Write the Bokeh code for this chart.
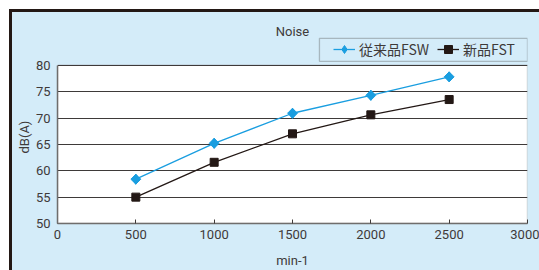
import math
from bokeh.plotting import figure
from bokeh.models import (Range1d, Legend, LegendItem, Label, BoxAnnotation, FixedTicker,
                          ColumnDataSource, Title)
from bokeh.embed import file_html
from bokeh.resources import INLINE

rpm = [500, 1000, 1500, 2000, 2500]
fsw = [58.4, 65.2, 70.9, 74.3, 77.8]
fst = [55.0, 61.6, 67.0, 70.6, 73.5]
x_ticks = [0, 500, 1000, 1500, 2000, 2500, 3000]
y_ticks = [50, 55, 60, 65, 70, 75, 80]
title_text = "Noise"
x_label = "min-1"
y_label = "dB(A)"
name_fsw = "従来品FSW"
name_fst = "新品FST"

BG = "#d4ecf9"
INK = "#3e3a39"
EDGE = "#6f6d6c"
BLUE = "#1a9ee0"
BLACK = "#231815"
FONT = "Roboto"

p = figure(width=539, height=270, output_backend="svg", toolbar_location=None,
           x_range=Range1d(0, 3000), y_range=Range1d(50, 90),
           min_border_left=57, min_border_right=12, min_border_top=12, min_border_bottom=46,
           styles={"background-color": BG,
                   "box-shadow": f"inset 9px 9px 0 0 #ffffff, inset 12px 12px 0 0 {BLACK}"})
p.border_fill_color = None
p.background_fill_color = BG
p.outline_line_color = None

plot_box = BoxAnnotation(left=0, right=3000, bottom=50, top=80, fill_color="white", fill_alpha=1,
                         line_color=EDGE, line_width=1.5, level="underlay")
p.center = [plot_box] + list(p.center)

p.xgrid.visible = False
p.ygrid.grid_line_color = INK
p.ygrid.grid_line_width = 1
p.ygrid.ticker = FixedTicker(ticks=y_ticks)

p.xaxis.ticker = FixedTicker(ticks=x_ticks)
p.yaxis.ticker = FixedTicker(ticks=y_ticks)
for ax in (p.xaxis, p.yaxis):
    ax.axis_line_color = EDGE
    ax.axis_line_width = 1.5
    ax.major_label_text_font = FONT
    ax.major_label_text_font_size = "13px"
    ax.major_label_text_color = INK
    ax.axis_label_text_font = FONT
    ax.axis_label_text_font_size = "13px"
    ax.axis_label_text_font_style = "normal"
    ax.axis_label_text_color = INK
    ax.minor_tick_line_color = None
p.yaxis.bounds = (50, 80)
p.xaxis.major_tick_in = 4
p.xaxis.major_tick_out = 0
p.xaxis.major_tick_line_color = INK
p.yaxis.major_tick_in = 0
p.yaxis.major_tick_out = 0
p.xaxis.major_label_standoff = 6
p.yaxis.major_label_standoff = 7
p.xaxis.axis_label = x_label
p.xaxis.axis_label_standoff = 11

ytitle = Title(text=y_label, align="left", offset=70, text_font=FONT, text_font_size="13px",
               text_font_style="normal", text_color=INK, standoff=2)
p.add_layout(ytitle, "left")

src = ColumnDataSource(dict(x=rpm, a=fsw, b=fst))
l1 = p.line("x", "a", source=src, line_color=BLUE, line_width=1.3)
# diamond (drawn under the rotated square, used as the legend key)
m1_key = p.scatter("x", "a", source=src, marker="diamond", size=10, fill_color=BLUE, line_color=BLUE)
m1 = p.scatter("x", "a", source=src, marker="square", angle=math.pi / 4, size=7,
               fill_color=BLUE, line_color=BLUE)
l2 = p.line("x", "b", source=src, line_color=BLACK, line_width=1.3)
m2 = p.scatter("x", "b", source=src, marker="square", size=8, fill_color=BLACK, line_color=BLACK)

p.add_layout(BoxAnnotation(left=1672, right=3000, bottom=80.75, top=85.1,
                           fill_color=BG, fill_alpha=1, line_color=INK, line_width=1.3))

legend = Legend(items=[LegendItem(label=name_fsw, renderers=[l1, m1_key]),
                       LegendItem(label=name_fst, renderers=[l2, m2])],
                orientation="horizontal", location=(276, 164),
                padding=0, margin=0, spacing=8, label_standoff=4,
                glyph_width=22, glyph_height=20, label_height=20,
                border_line_color=None, background_fill_alpha=0,
                label_text_font="Noto Sans CJK JP", label_text_font_size="14px",
                label_text_color=INK)
p.add_layout(legend, "center")

p.add_layout(Label(x=1500, y=86.4, text=title_text, text_align="center", text_baseline="middle",
                   text_font=FONT, text_font_size="13px", text_color=INK))

open("out.html", "w").write(file_html(p, INLINE))
